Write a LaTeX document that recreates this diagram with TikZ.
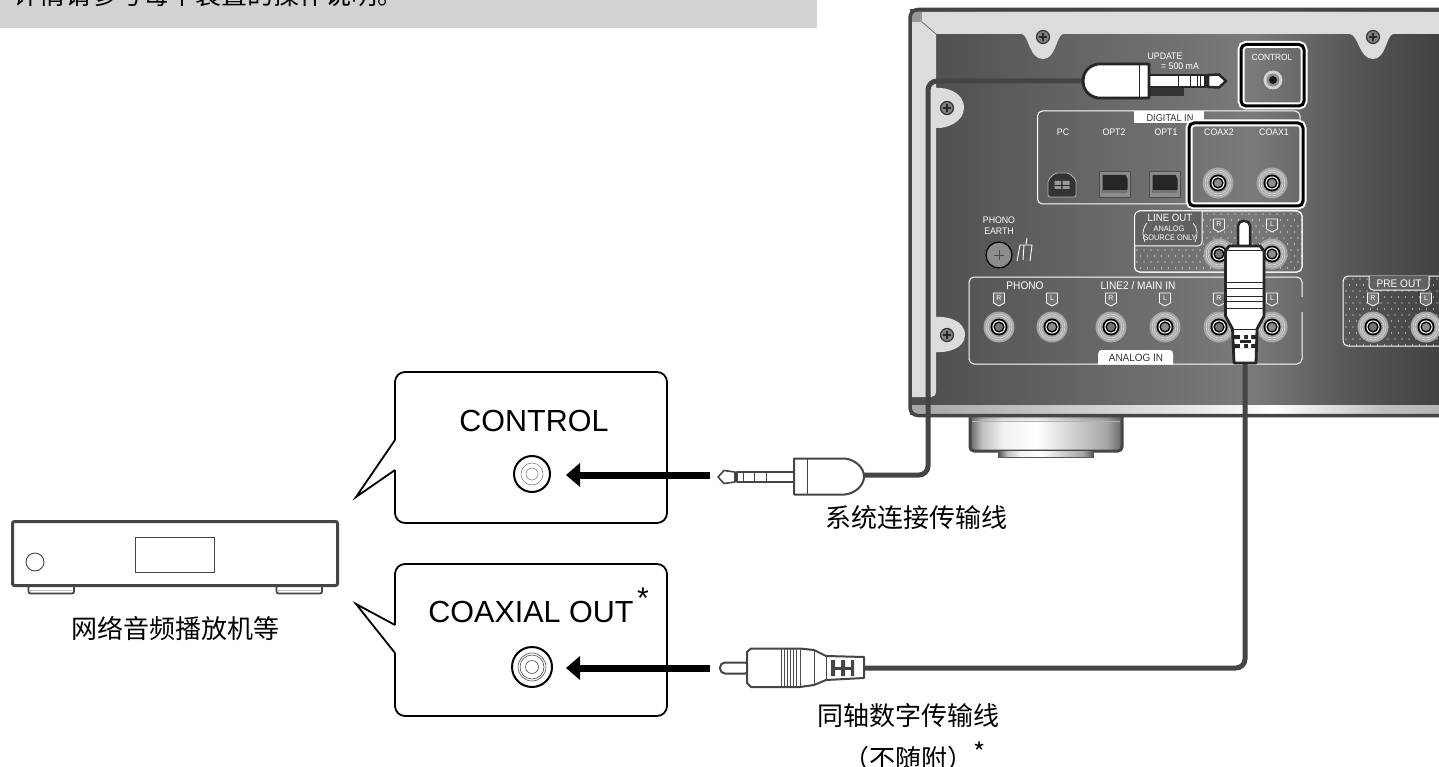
\documentclass[tikz,border=0pt]{standalone}
\usepackage{fontspec}
\setmainfont{Liberation Sans}
\newfontfamily\cjk{Noto Sans CJK SC}
\definecolor{cablegray}{HTML}{454545}
\definecolor{bandgray}{HTML}{DCDCDC}
\definecolor{barfill}{HTML}{D2D2D2}
\pgfdeclarehorizontalshading{panelshade}{100bp}{color(0bp)=(black!68);color(25bp)=(black!70);color(41bp)=(black!60);color(56bp)=(black!52);color(65bp)=(black!66);color(75bp)=(black!76);color(100bp)=(black!76)}
\pgfdeclarehorizontalshading{footshade}{100bp}{color(0bp)=(black!60);color(25bp)=(black!60);color(29bp)=(black!25);color(36bp)=(black!5);color(47bp)=(white);color(60bp)=(black!20);color(70bp)=(black!35);color(75bp)=(black!60);color(100bp)=(black!60)}
\pgfdeclarehorizontalshading{stripshade}{100bp}{color(0bp)=(black!35);color(25bp)=(black!35);color(35bp)=(black!25);color(50bp)=(black!10);color(58bp)=(white);color(68bp)=(black!25);color(75bp)=(black!30);color(100bp)=(black!30)}
\tikzset{
  x=1pt,y=-1pt,
  panellabel/.style={text=white,inner sep=0pt,font=\fontsize{9.5}{10}\selectfont,xscale=.92},
  cnlabel/.style={text=black,inner sep=0pt,font=\cjk\fontsize{26}{28}\selectfont},
  biglabel/.style={text=black,inner sep=0pt,font=\fontsize{30.5}{32}\selectfont},
  cable/.style={draw=cablegray,line width=5pt,line join=round,rounded corners=9pt},
  callout/.style={draw=black,line width=1.8pt,fill=white,line join=miter},
  plugbody/.style={draw=cablegray,line width=2pt,fill=white,line join=round},
  blackbox/.style={draw=black,line width=3pt,rounded corners=5pt,preaction={draw=white,line width=7pt}},
  whitebox/.style={draw=white,line width=1pt,rounded corners=5pt},
  arrowline/.style={draw=black,line width=7pt},
  arrowhead/.style={fill=black,draw=none},
}
% phono jack on the panel
\newcommand{\rcajack}[4]{% name, x, y, centre colour
  \node[circle,fill=black!35,minimum size=31pt,inner sep=0pt] (#1) at (#2,#3) {};
  \draw[black!15,line width=.6pt] (#2,#3) circle[radius=13pt] (#2,#3) circle[radius=11pt];
  \fill[black] (#2,#3) circle[radius=8.5pt];
  \fill[white] (#2,#3) circle[radius=6.6pt];
  \fill[black] (#2,#3) circle[radius=5.6pt];
  \fill[#4] (#2,#3) circle[radius=4pt];
}
% R / L badge
\newcommand{\badge}[4]{% name, x, y, letter
  \draw[white,line width=.8pt,fill=black!55,line join=round] (#2-5.5,#3-6)--(#2+5.5,#3-6)--(#2+5.5,#3+4)--(#2,#3+7)--(#2-5.5,#3+4)--cycle;
  \node[text=white,inner sep=0pt,font=\fontsize{7}{7}\selectfont] (#1) at (#2,#3-.5) {#4};
}
\newcommand{\screw}[3]{% name,x,y
  \node[circle,fill=black!50,draw=black!80,line width=1.2pt,minimum size=13pt,inner sep=0pt] (#1) at (#2,#3) {};
  \draw[black!85,line width=1.6pt] (#2-4,#3)--(#2+4,#3) (#2,#3-4)--(#2,#3+4);
}
\newcommand{\optical}[3]{% name,x,y
  \node[rectangle,fill=black!45,draw=black!70,line width=.6pt,minimum width=31pt,minimum height=26pt,inner sep=0pt] (#1) at (#2,#3) {};
  \fill[black!85] (#2-12,#3-9)--(#2+11,#3-9)--(#2+13,#3-5)--(#2+13,#3+5)--(#2+11,#3+9)--(#2-12,#3+9)--cycle;
  \fill[black!55] (#2-12,#3+6) rectangle (#2+12,#3+9);
}
\begin{document}
\begin{tikzpicture}
\useasboundingbox (0,0) rectangle (1439,767);
\fill[white] (0,0) rectangle (1439,767);
\begin{scope}
\clip (0,0) rectangle (1439,767);
% ---------- top bar
\fill[barfill] (0,0) rectangle (817,28);
\node[anchor=base west,inner sep=0pt,font=\cjk\fontsize{26}{28}\selectfont] (note) at (13,5) {详情请参考每个装置的操作说明。};
% ---------- foot
\path[shading=footshade,draw=cablegray,line width=3pt,rounded corners=4pt] (970,400) -- (970,451) -- (1122,451) -- (1122,400) -- cycle;
\fill[cablegray!90] (998,451) rectangle (1094,458);
\path[shading=footshade] (1000,451) rectangle (1092,456);
\foreach \k in {0,...,7}{\fill[black,opacity={.45-.055*\k}] (972,{405+2*\k}) rectangle (1120,{407+2*\k});}
\draw[black!30,line width=.5pt] (972,421) -- (1120,421);
% ---------- panel
\path[shading=panelshade] (910,10) rectangle (1460,414);
\path[shading=stripshade] (912,405) rectangle (1460,414);
\fill[bandgray] (912,12) -- (1460,12) -- (1460,34) -- (1393,34)
  .. controls (1386,36) and (1386,59) .. (1373,59)
  .. controls (1359,59) and (1359,36) .. (1350,34) -- (1063,34)
  .. controls (1056,36) and (1056,59) .. (1043,59)
  .. controls (1029,59) and (1029,36) .. (1022,34) -- (936,34) -- (936,88)
  .. controls (946,87) and (964,92) .. (964,108)
  .. controls (964,122) and (946,129) .. (936,128) -- (936,317)
  .. controls (946,316) and (965,320) .. (965,335)
  .. controls (965,349) and (946,353) .. (936,352) -- (936,391)
  .. controls (936,395) and (934,397) .. (931,397) -- (912,397) -- cycle;
\fill[black!40] (912,12) -- (922,12) -- (922,22) -- (912,22) -- cycle;
\draw[black!60,line width=.7pt] (922,22) -- (936,34);
\draw[cablegray,line width=3.5pt,rounded corners=8pt] (1460,9.5) -- (910,9.5) -- (910,415.5) -- (1460,415.5);
\screw{s1}{1043}{37}
\screw{s2}{1373}{37}
\screw{s3}{947}{108}
\screw{s4}{947}{335}
% ---------- UPDATE text
\node[panellabel] (update) at (1165,56) {UPDATE};
\node[panellabel] (update2) at (1180,66.5) {= 500 mA};
\fill[black!80] (1148,88) rectangle (1184,96);
% ---------- CONTROL jack
\draw[blackbox] (1241,44.5) rectangle (1304,106);
\node[panellabel,font=\fontsize{9}{10}\selectfont] (ctl) at (1272,57) {CONTROL};
\node[circle,fill=black!18,minimum size=19pt,inner sep=0pt] (ctljack) at (1273,80) {};
\fill[black!45] (1273,80) circle[radius=6.5pt];
\fill[black!90] (1273,80) circle[radius=4pt];
% ---------- DIGITAL IN
\draw[whitebox] (1037.5,111) rectangle (1300,204);
\path[fill=white] (1134,111) rectangle (1204,123.5);
\node[text=black!80,inner sep=0pt,font=\fontsize{10}{10}\selectfont,xscale=.92] (digin) at (1170,118) {DIGITAL IN};
\node[panellabel] (pc) at (1063,132) {PC};
\node[panellabel] (opt2) at (1114,132) {OPT2};
\node[panellabel] (opt1) at (1166,132) {OPT1};
\node[panellabel] (cx2) at (1219,132) {COAX2};
\node[panellabel] (cx1) at (1274,132) {COAX1};
\draw[white!70!black,line width=.8pt,fill=black!80,rounded corners=2pt] (1055,173)--(1069,173)--(1076,180)--(1076,197)--(1048,197)--(1048,180)--cycle;
\fill[black!40] (1054.5,181) rectangle (1061,189) (1062.5,181) rectangle (1069.5,189);
\draw[black!85,line width=.7pt] (1054.5,185) -- (1069.5,185);
\optical{o2}{1114.5}{184}
\optical{o1}{1164.5}{184}
\draw[blackbox] (1189,123) rectangle (1303,206);
\rcajack{jc2}{1218}{183}{black!45}
\rcajack{jc1}{1272}{183}{black!45}
% ---------- PHONO EARTH
\node[panellabel] (ph1) at (999,220) {PHONO};
\node[panellabel] (ph2) at (999,231) {EARTH};
\node[circle,fill=black!45,draw=black,line width=1.2pt,minimum size=26pt,inner sep=0pt] (earth) at (999,255) {};
\draw[black!70,line width=.8pt] (994,255)--(1004,255) (999,250)--(999,260);
\draw[white,line width=.9pt] (1017,261)--(1020,245)--(1032,245)--(1030,261) (1024,245)--(1023,260) (1026,244)--(1027,238);
% ---------- LINE OUT
\draw[whitebox] (1134.5,211) rectangle (1302,272);
\begin{scope}
\clip[rounded corners=5pt] (1134.5,211) rectangle (1302,272);
\foreach \xi in {0,...,24}\foreach \yi in {0,...,10}{\fill[white] ({1137+7*\xi+3.5*mod(\yi,2)},{214+6*\yi}) circle[radius=.55pt];}
\end{scope}
\fill[black!62] (1135,211.5) rectangle (1202,246);
\draw[white,line width=1pt,rounded corners=4pt] (1202,211) -- (1202,246) -- (1134.5,246);
\draw[whitebox] (1134.5,211) rectangle (1302,272);
\node[panellabel,font=\fontsize{10.5}{11}\selectfont] (lo1) at (1170,218) {LINE OUT};
\node[panellabel,font=\fontsize{8}{9}\selectfont] (lo2) at (1169,228.5) {ANALOG};
\node[panellabel,font=\fontsize{8}{9}\selectfont] (lo3) at (1170,237.5) {SOURCE ONLY};
\draw[white,line width=.7pt] (1147,223) .. controls (1142,229) and (1142,236) .. (1145,242);
\draw[white,line width=.7pt] (1193,223) .. controls (1198,229) and (1198,236) .. (1195,242);
\badge{lr}{1219}{225}{R}
\badge{ll}{1272}{225}{L}
\rcajack{jlr}{1219}{254}{black!55}
\rcajack{jll}{1272}{254}{black!45}
% ---------- ANALOG IN
\draw[whitebox] (1302,297) -- (1302,277) -- (969,277) -- (969,364) -- (1302,364) -- (1302,312);
\fill[white] (1098,364.5) -- (1098,354) .. controls (1098,351) and (1100,350) .. (1102,350) -- (1169,350) .. controls (1172,350) and (1173,351) .. (1173,354) -- (1173,364.5) -- cycle;
\node[text=black!80,inner sep=0pt,font=\fontsize{10.5}{11}\selectfont,xscale=.95] (ain) at (1136,357.5) {ANALOG IN};
\node[panellabel,font=\fontsize{11}{11}\selectfont] (phono) at (1025,286) {PHONO};
\node[panellabel,font=\fontsize{11}{11}\selectfont] (line2) at (1138,286) {LINE2 / MAIN IN};
\badge{b1}{999}{299}{R}
\badge{b2}{1052}{299}{L}
\badge{b3}{1111}{299}{R}
\badge{b4}{1165}{299}{L}
\badge{b5}{1219}{299}{R}
\badge{b6}{1272}{299}{L}
\rcajack{j1}{999}{327}{black!55}
\rcajack{j2}{1052}{327}{black!45}
\rcajack{j3}{1111}{327}{black!55}
\rcajack{j4}{1165}{327}{black!45}
\rcajack{j5}{1219}{327}{black!55}
\rcajack{j6}{1272}{327}{black!45}
% ---------- PRE OUT
\begin{scope}
\clip[rounded corners=5pt] (1343,276) rectangle (1470,346);
\foreach \xi in {0,...,14}\foreach \yi in {0,...,11}{\fill[white] ({1346+7*\xi+3.5*mod(\yi,2)},{279+6*\yi}) circle[radius=.55pt];}
\end{scope}
\draw[whitebox] (1343,276) rectangle (1470,346);
\path[fill=black!62,draw=white,line width=1pt,rounded corners=4pt] (1369,276) -- (1369,290) -- (1429,290) -- (1429,276);
\node[panellabel,font=\fontsize{11}{11}\selectfont] (pre) at (1399,283.5) {PRE OUT};
\badge{p1}{1373}{299}{R}
\badge{p2}{1426}{299}{L}
\rcajack{j7}{1373}{327}{black!55}
\rcajack{j8}{1426}{327}{black!45}
% ---------- cables
\coordinate (plugAend) at (864,475);
\coordinate (topplugend) at (1084,81);
\coordinate (plugBend) at (864,668);
\coordinate (vplugend) at (1245,362);
\draw[cable,line cap=butt] (topplugend) -- (928,81) -- (928,475) -- (plugAend);
\draw[cable,line cap=butt] (vplugend) -- (1245,668) -- (plugBend);
% ---------- top 3.5mm plug
\draw[draw=black!85,line width=2.5pt,fill=white,line join=round] (1206,75) -- (1149,75) -- (1149,87) -- (1206,87) -- cycle;
\draw[draw=black!85,line width=2.5pt,fill=white,line join=round] (1208,75) -- (1219,74.5) -- (1226,81) -- (1219,87.5) -- (1208,87) -- cycle;
\fill[black!85] (1204,75) rectangle (1208,87);
\draw[black!85,line width=1pt] (1178,75)--(1178,87) (1190,75)--(1190,87) (1197,75)--(1197,87) (1200,75)--(1200,87);
\draw[draw=black!85,line width=2.8pt,fill=white,line join=round] (1149,64) -- (1098,64) .. controls (1087,66) and (1083,74) .. (1083,81) .. controls (1083,88) and (1087,96) .. (1098,98) -- (1149,98) -- cycle;
\draw[black!85,line width=1pt] (1139,64) -- (1139,98);
% ---------- vertical RCA plug
\draw[draw=black!85,line width=2.5pt,fill=white,rounded corners=5pt] (1238,250) -- (1238,221) -- (1250,221) -- (1250,250) -- cycle;
\draw[draw=black!85,line width=2.8pt,fill=white,line join=round] (1229,246) -- (1260,246) -- (1264,251) -- (1264,316) -- (1257,329) -- (1256,363) -- (1234,363) -- (1232.5,329) -- (1225.5,316) -- (1225.5,251) -- cycle;
\draw[black!85,line width=.8pt] (1226,250) -- (1263,250) (1226,282) -- (1263,282) (1226,288) -- (1263,288) (1226,296) -- (1263,296) (1226,301) -- (1263,301) (1226,308) -- (1263,308) (1233,329) -- (1257,329);
\fill[black!85] (1234,335) rectangle (1256,339) (1234,344) rectangle (1256,348);
\fill[white] (1240,335) rectangle (1244,348) (1248,335) rectangle (1251,348);
\fill[black!85] (1240,340) rectangle (1251,343);
% ---------- callouts
\draw[callout,rounded corners=10pt] (395,440) -- (395,372) -- (667,372) -- (667,523) -- (395,523) -- (395,470);
\draw[callout,line join=miter] (395,440) -- (356,497) -- (395,470);
\node[biglabel] (controltxt) at (534,421) {CONTROL};
\node[circle,draw=black,line width=2pt,fill=white,minimum size=36pt,inner sep=0pt,yscale=1,xscale=1] (jackA) at (532,474) {};
\draw[black!55,line width=.5pt] (532,474) circle[radius=11pt] (532,474) circle[radius=6pt];
\draw[callout,rounded corners=10pt] (395,625) -- (395,564) -- (667,564) -- (667,716) -- (395,716) -- (395,653);
\draw[callout,line join=miter] (395,625) -- (356,604) -- (395,653);
\node[biglabel] (coaxtxt) at (531,612) {COAXIAL OUT};
\node[inner sep=0pt,font=\fontsize{30}{32}\selectfont] (star) at (643,598) {*};
\node[circle,draw=black,line width=2pt,fill=white,minimum size=40pt,inner sep=0pt] (jackB) at (532,667) {};
\draw[black!70,line width=.6pt] (532,667) circle[radius=14pt] (532,667) circle[radius=12pt] (532,667) circle[radius=6.5pt];
% ---------- arrows
\coordinate (arrA) at (710,475);
\coordinate (arrB) at (710,668);
\draw[arrowline] (arrA) -- (578,475);
\fill[arrowhead] (566,475) -- (580,463) -- (580,487) -- cycle;
\draw[arrowline] (arrB) -- (578,668);
\fill[arrowhead] (566,668) -- (580,656) -- (580,680) -- cycle;
% ---------- left 3.5 mm plug
\draw[plugbody,line width=1.6pt] (794,472) -- (737,472) -- (737,482) -- (794,482) -- cycle;
\draw[plugbody,line width=1.6pt] (735,472) -- (724,470.5) -- (718,477) -- (724,483.5) -- (735,482) -- cycle;
\draw[cablegray,line width=.8pt] (743,472)--(743,482) (754,472)--(754,482) (766,472)--(766,482);
\draw[plugbody] (794,458.5) -- (845,458.5) .. controls (856,460) and (864,468) .. (864,476.5) .. controls (864,485) and (856,493) .. (845,494.5) -- (794,494.5) -- cycle;
\draw[cablegray,line width=.8pt] (807,459) -- (807,494);
% ---------- left RCA plug
\draw[plugbody,rounded corners=5pt] (750,673.5) -- (720,673.5) -- (720,662.5) -- (750,662.5) -- cycle;
\draw[plugbody] (751,648.5) -- (800,648.5) -- (814,650) -- (826,656) -- (864,657) -- (864,678) -- (826,680) -- (814,685) -- (800,687) -- (751,687) -- (747,683) -- (747,652) -- cycle;
\foreach \sx in {781,784,787,790,793,796,800}{\draw[black!70,line width=.5pt] (\sx,649) -- (\sx,686.5);}
\draw[cablegray,line width=.8pt] (814,650) -- (814,685) (826,656) -- (826,680);
\fill[cablegray] (831,660) rectangle (835,676) (841,660) rectangle (845,676) (851,660) rectangle (854,676);
\fill[cablegray] (835,667) rectangle (851,669.5);
% ---------- device
\draw[cablegray,line width=1.8pt,rounded corners=2pt,fill=white] (28.5,587) -- (28.5,593.5) -- (74,593.5) -- (74,587);
\draw[cablegray,line width=1.8pt,rounded corners=2pt,fill=white] (276.5,587) -- (276.5,593.5) -- (322,593.5) -- (322,587);
\draw[black!25,line width=1pt] (30,590) -- (72,590) (278,590) -- (320,590);
\node[draw=cablegray,line width=3pt,rounded corners=2pt,fill=white,minimum width=325pt,minimum height=64pt,inner sep=0pt] (device) at (175,553.5) {};
\node[draw=cablegray,line width=.9pt,minimum width=79pt,minimum height=35pt,inner sep=0pt] (screen) at (174.5,554.5) {};
\node[circle,draw=cablegray,line width=.9pt,minimum size=18pt,inner sep=0pt] (knob) at (35,562) {};
% ---------- labels
\node[cnlabel] (devlabel) at (175,628) {网络音频播放机等};
\node[cnlabel] (sysl) at (916,518) {系统连接传输线};
\node[cnlabel] (coaxl) at (908,716) {同轴数字传输线};
\node[cnlabel] (coaxl2) at (915,756) {（不随附）\raisebox{6pt}{*}};
\end{scope}
\end{tikzpicture}
\end{document}
